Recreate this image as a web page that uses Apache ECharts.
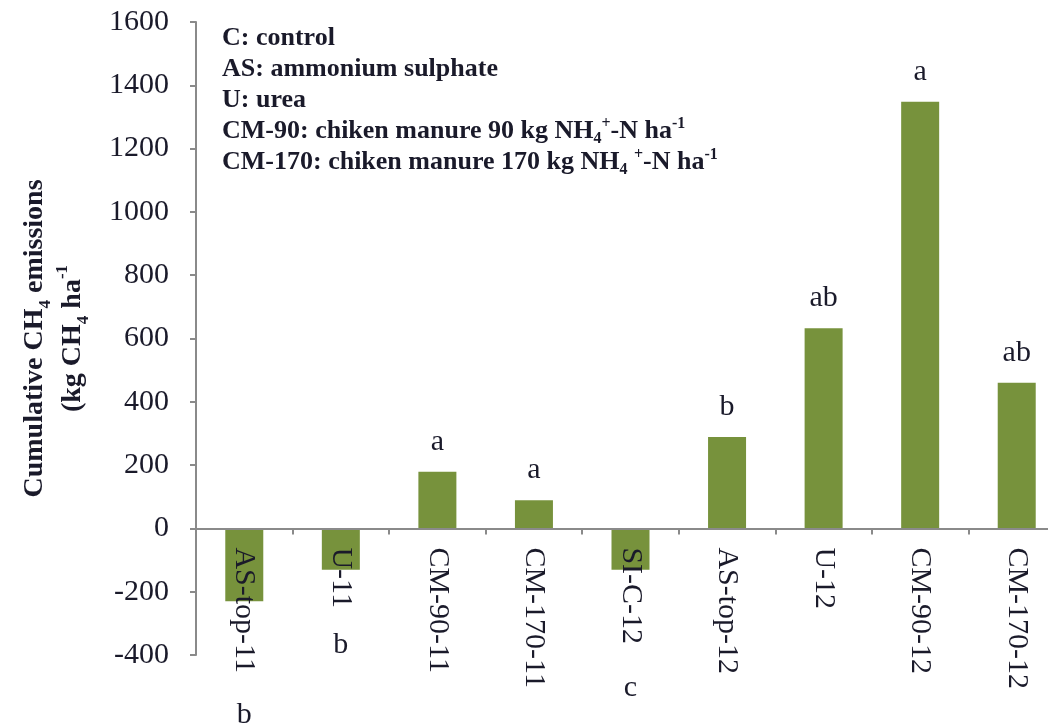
<!DOCTYPE html>
<html>
<head>
<meta charset="utf-8">
<script src="https://cdn.jsdelivr.net/npm/echarts@6/dist/echarts.min.js"></script>
<style>
  html, body { margin: 0; padding: 0; background: #ffffff; }
  #chart { width: 1048px; height: 724px; }
</style>
</head>
<body>
<div id="chart"></div>
<script>
// Treatments (year suffix: 11 = 2011, 12 = 2012)
const categories = ['AS-top-11', 'U-11', 'CM-90-11', 'CM-170-11', 'SI-C-12', 'AS-top-12', 'U-12', 'CM-90-12', 'CM-170-12'];
// Cumulative CH4 emissions, kg CH4 ha-1
const emissions = [-230, -131, 179, 89, -131, 289, 632, 1348, 460];
// Significance letters for each treatment
const letters = ['b', 'b', 'a', 'a', 'c', 'b', 'ab', 'a', 'ab'];
// Distance of the letter from the end of a negative bar
const negLetterGap = [99, 60, 0, 0, 103, 0, 0, 0, 0];

const yTicks = { min: -400, max: 1600, step: 200 };

// Abbreviation key: each line is a list of [text, style] runs
const keyLines = [
  [['C: control', 'm']],
  [['AS: ammonium sulphate', 'm']],
  [['U: urea', 'm']],
  [['CM-90: chiken manure 90 kg NH', 'm'], ['4', 'sub'], ['+', 'sup'], ['-N ha', 'm'], ['-1', 'sup']],
  [['CM-170: chiken manure 170 kg NH', 'm'], ['4', 'sub'], [' ', 'm'], ['+', 'sup'], ['-N ha', 'm'], ['-1', 'sup']]
];
const axisTitleLines = [
  [['Cumulative CH', 'm'], ['4', 'sub'], [' emissions', 'm']],
  [['(kg CH', 'm'], ['4', 'sub'], [' ha', 'm'], ['-1', 'sup']]
];

const SERIF = '"Liberation Serif", "Times New Roman", serif';
const INK = '#1a1a2a';

// Plot box
const GRID = { left: 196, top: 22, width: 869, bottom: 69 };
const CHART_H = 724;

function richText(lines) {
  return lines.map(l => l.map(([t, s]) => '{' + s + '|' + t + '}').join('')).join('\n');
}
function richStyles(size, lh, small) {
  const base = { fontFamily: SERIF, fontWeight: 'bold', color: INK };
  return {
    m: Object.assign({}, base, { fontSize: size, lineHeight: lh }),
    sub: Object.assign({}, base, { fontSize: small, lineHeight: small, verticalAlign: 'bottom' }),
    sup: Object.assign({}, base, { fontSize: small, lineHeight: small + 4, verticalAlign: 'top' })
  };
}

// The category axis sits on the zero line: shift it up from the plot bottom
const plotH = CHART_H - GRID.top - GRID.bottom;
const zeroLift = plotH * (0 - yTicks.min) / (yTicks.max - yTicks.min);

const barData = emissions.map((v, i) => {
  const item = { value: v };
  if (v < 0) {
    item.label = { position: 'bottom', distance: negLetterGap[i] };
  }
  return item;
});

const chart = echarts.init(document.getElementById('chart'), null, { renderer: 'canvas' });
chart.setOption({
  animation: false,
  backgroundColor: '#ffffff',
  title: {
    text: richText(keyLines),
    left: 222,
    top: 23,
    padding: 0,
    textStyle: { rich: richStyles(26, 31, 16) }
  },
  grid: {
    left: GRID.left, top: GRID.top, width: GRID.width, bottom: GRID.bottom,
    containLabel: false,
    outerBoundsMode: 'none'
  },
  xAxis: {
    type: 'category',
    data: categories,
    z: 5,
    offset: -zeroLift,
    axisLine: { onZero: false, lineStyle: { color: '#8a8a8a', width: 2 } },
    axisTick: { show: true, alignWithLabel: false, length: 6, lineStyle: { color: '#8a8a8a', width: 2 } },
    axisLabel: {
      rotate: -90,
      margin: 19,
      interval: 0,
      fontFamily: SERIF,
      fontSize: 30,
      color: INK
    },
    splitLine: { show: false }
  },
  yAxis: {
    type: 'value',
    min: yTicks.min,
    max: yTicks.max,
    interval: yTicks.step,
    axisLine: { show: true, lineStyle: { color: '#8a8a8a', width: 2 } },
    axisTick: { show: true, length: 6, lineStyle: { color: '#8a8a8a', width: 2 } },
    axisLabel: {
      fontFamily: SERIF, fontSize: 30, color: INK, margin: 27,
      formatter: v => String(v)
    },
    splitLine: { show: false },
    name: richText(axisTitleLines),
    nameLocation: 'middle',
    nameGap: 104,
    nameRotate: 90,
    nameTextStyle: { rich: richStyles(28, 38, 17) }
  },
  series: [{
    type: 'bar',
    data: barData,
    barWidth: 38,
    itemStyle: { color: '#77923c' },
    label: {
      show: true,
      position: 'top',
      distance: 15,
      fontFamily: SERIF,
      fontSize: 30,
      color: INK,
      formatter: p => letters[p.dataIndex]
    }
  }]
});
</script>
</body>
</html>
